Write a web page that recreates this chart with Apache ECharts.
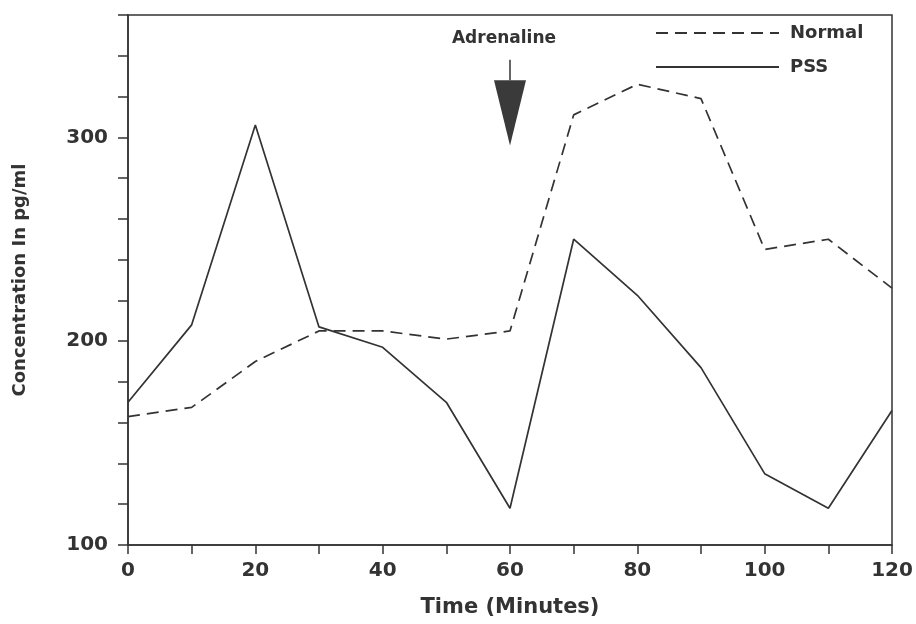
<!DOCTYPE html>
<html>
<head>
<meta charset="utf-8">
<script src="https://cdn.jsdelivr.net/npm/echarts@6/dist/echarts.min.js"></script>
<style>
  html, body { margin: 0; padding: 0; background: #fff; }
  #chart { width: 916px; height: 624px; }
</style>
</head>
<body>
<div id="chart"></div>
<script>
// time points (minutes)
const times = [0, 10, 20, 30, 40, 50, 60, 70, 80, 90, 100, 110, 120];
// concentration in pg/ml
const normalData = [163, 167.5, 190, 205, 205, 201, 205, 311, 326, 319, 245, 250, 226];
const pssData = [170, 208, 306, 207, 197, 170, 118, 250, 222.5, 187, 135, 118, 166];
const yLabels = [100, 200, 300];
const xLabels = [0, 20, 40, 60, 80, 100, 120];

// adrenaline marker: [time, shaft top, head top, tip, label]
const adrenaline = [[60, 338, 328, 296, 348.5]];

const ink = '#333';
const font = 'DejaVu Sans';

const chart = echarts.init(document.getElementById('chart'));

const option = {
    backgroundColor: '#fff',
    animation: false,
    grid: {
        left: 128, right: 24, top: 15, bottom: 79,
        show: true,
        borderColor: ink,
        borderWidth: 1.5
    },
    legend: {
        data: ['Normal', 'PSS'],
        orient: 'vertical',
        left: 650,
        top: 19,
        itemWidth: 123,
        itemHeight: 14,
        itemGap: 16,
        itemStyle: { opacity: 0 },
        textStyle: { color: ink, fontFamily: font, fontWeight: 'bold', fontSize: 18, padding: [0, 0, 0, 6] }
    },
    xAxis: {
        type: 'value',
        min: 0, max: 120, interval: 10,
        name: 'Time (Minutes)',
        nameLocation: 'middle',
        nameGap: 52,
        nameTextStyle: { color: ink, fontFamily: font, fontWeight: 'bold', fontSize: 21 },
        splitLine: { show: false },
        axisLine: { lineStyle: { color: ink, width: 1.5 } },
        axisTick: { length: 9, lineStyle: { color: ink, width: 1.5 } },
        axisLabel: {
            margin: 16,
            color: ink, fontFamily: font, fontWeight: 'bold', fontSize: 20,
            formatter: v => xLabels.includes(v) ? String(v) : ''
        }
    },
    yAxis: {
        type: 'value',
        min: 100, max: 360, interval: 20,
        name: 'Concentration In pg/ml',
        nameLocation: 'middle',
        nameRotate: 90,
        nameGap: 99,
        nameTextStyle: { color: ink, fontFamily: font, fontWeight: 'bold', fontSize: 18 },
        splitLine: { show: false },
        axisLine: { show: true, lineStyle: { color: ink, width: 1.5 } },
        axisTick: { show: true, length: 10, lineStyle: { color: ink, width: 1.5 } },
        axisLabel: {
            margin: 20,
            color: ink, fontFamily: font, fontWeight: 'bold', fontSize: 20,
            formatter: v => yLabels.includes(v) ? String(v) : ''
        }
    },
    series: [
        {
            name: 'Normal',
            type: 'line',
            symbol: 'none',
            color: ink,
            lineStyle: { color: ink, width: 1.7, type: [12, 7] },
            data: times.map((t, i) => [t, normalData[i]])
        },
        {
            name: 'PSS',
            type: 'line',
            symbol: 'none',
            color: ink,
            lineStyle: { color: ink, width: 1.7 },
            data: times.map((t, i) => [t, pssData[i]])
        },
        {
            name: 'Adrenaline',
            type: 'custom',
            data: adrenaline,
            renderItem: function (params, api) {
                const t = api.value(0);
                const shaftTop = api.coord([t, api.value(1)]);
                const headTop = api.coord([t, api.value(2)]);
                const tip = api.coord([t, api.value(3)]);
                const label = api.coord([t, api.value(4)]);
                const half = 16;
                return {
                    type: 'group',
                    children: [
                        {
                            type: 'line',
                            shape: { x1: shaftTop[0], y1: shaftTop[1], x2: headTop[0], y2: headTop[1] },
                            style: { stroke: ink, lineWidth: 1.5 }
                        },
                        {
                            type: 'polygon',
                            shape: { points: [[headTop[0] - half, headTop[1]], [headTop[0] + half, headTop[1]], tip] },
                            style: { fill: '#3a3a3a' }
                        },
                        {
                            type: 'text',
                            x: label[0] - 6,
                            y: label[1],
                            style: {
                                text: 'Adrenaline',
                                fill: ink,
                                font: 'bold 17px "DejaVu Sans"',
                                align: 'center',
                                verticalAlign: 'middle'
                            }
                        }
                    ]
                };
            }
        }
    ]
};

chart.setOption(option);
</script>
</body>
</html>
